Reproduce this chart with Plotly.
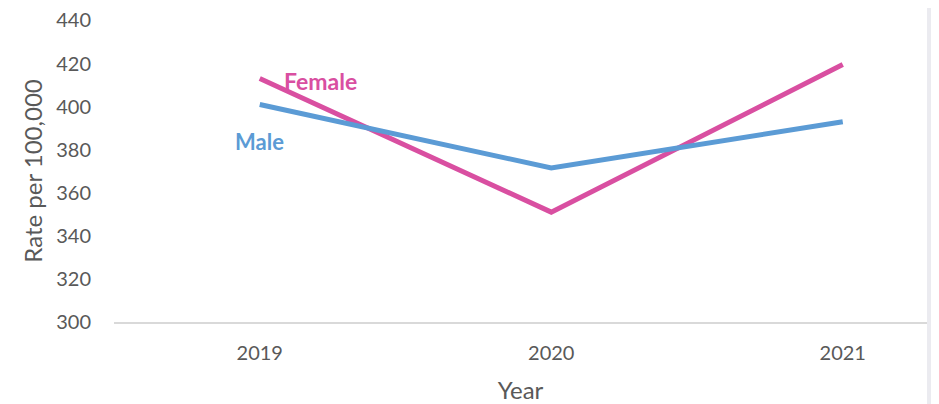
import plotly.graph_objects as go

years = ["2019", "2020", "2021"]
female = [413, 351, 419.5]
male = [401, 371.5, 393]
y_ticks = [300, 320, 340, 360, 380, 400, 420, 440]

FEMALE_COLOR = "#D94FA1"
MALE_COLOR = "#5B9BD5"
TEXT = "#595959"
FONT = "Lato"

# page body has an 8px margin, so figure coords = page coords - 8
W, H = 939, 404
L, T = 106, 12
plot_right, plot_bottom = 919, 314
R = W - plot_right
B = H - plot_bottom
pw = W - L - R
ph = H - T - B

fig = go.Figure()
fig.add_trace(go.Scatter(x=years, y=female, mode="lines", name="Female",
                         line=dict(color=FEMALE_COLOR, width=5), showlegend=False))
fig.add_trace(go.Scatter(x=years, y=male, mode="lines", name="Male",
                         line=dict(color=MALE_COLOR, width=5), showlegend=False))

fig.add_annotation(x=0.21, y=412, xref="x", yref="y", text="<b>Female</b>", showarrow=False,
                   font=dict(family=FONT, size=23, color=FEMALE_COLOR))
fig.add_annotation(x=0.0, y=384, xref="x", yref="y", text="<b>Male</b>", showarrow=False,
                   font=dict(family=FONT, size=22, color=MALE_COLOR))

gray = "#EBEBF0"
fig.add_shape(type="rect", xref="paper", yref="paper",
              x0=1, x1=1 + R / pw, y0=-B / ph, y1=1 + T / ph,
              fillcolor=gray, line=dict(width=0), layer="below")

fig.update_layout(
    width=W, height=H,
    margin=dict(l=L, r=R, t=T, b=B, autoexpand=False),
    paper_bgcolor="white", plot_bgcolor="white",
    font=dict(family=FONT, color=TEXT, size=20),
    xaxis=dict(type="category", range=[-0.5, 2.289], showgrid=False,
               showline=True, linecolor="#D9D9D9", linewidth=1.5,
               ticks="", tickfont=dict(size=20, color=TEXT),
               ticklabelstandoff=12, automargin=False,
               title=dict(text="Year", font=dict(size=24, color=TEXT), standoff=19)),
    yaxis=dict(range=[300, 440.2], tickvals=y_ticks, showgrid=False, zeroline=False,
               showline=False, ticks="", tickfont=dict(size=20, color=TEXT),
               ticklabelstandoff=22, ticklabeloverflow="allow", automargin=False,
               title=dict(text="Rate per 100,000", font=dict(size=24, color=TEXT), standoff=6)),
)

fig.write_html("out.html")
